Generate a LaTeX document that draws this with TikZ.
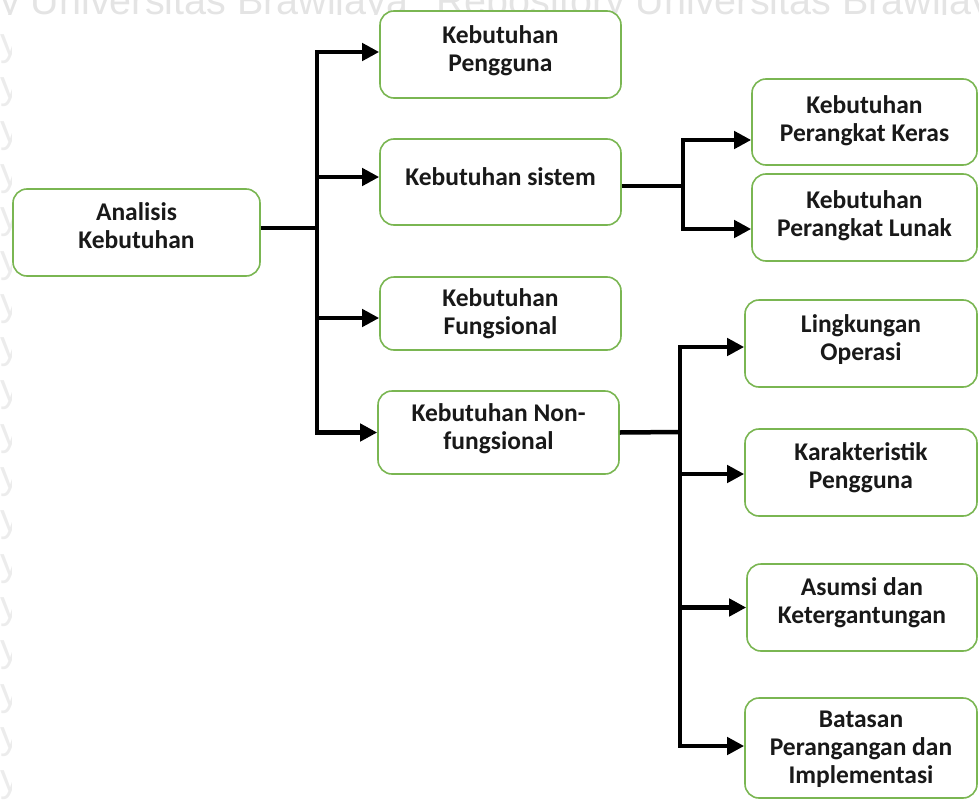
\documentclass[tikz,border=0pt]{standalone}
\usepackage{fontspec}
\setmainfont{Carlito}
\newfontfamily\wmfont{Liberation Sans}
\usetikzlibrary{arrows.meta}
\definecolor{boxgreen}{RGB}{122,182,82}
\definecolor{wmgray}{RGB}{228,228,228}
\definecolor{wmlight}{RGB}{236,236,236}
\begin{document}
\begin{tikzpicture}[x=1pt,y=-1pt,
  box/.style={draw=boxgreen, line width=1.6pt, rounded corners=14pt, fill=white, inner sep=0pt},
  txt/.style={align=center, inner sep=0pt, text=black!90,
    font=\bfseries\fontsize{25.5}{28}\selectfont},
  link/.style={line width=4.5pt, line join=miter},
  arr/.style={link, -{Triangle[length=17pt,width=17pt]}},
  wm/.style={text=wmgray, inner sep=0pt, anchor=base west,
    font=\wmfont\fontsize{39.5}{40}\selectfont}]
\useasboundingbox (0,0) rectangle (979,800);

% repository watermark along the top edge
\begin{scope}
  \clip (0,0) rectangle (979,15);
  \node[wm] (wma) at (-169,15) {Repository Universitas Brawijaya};
  \node[wm] (wmb) at (436,15) {Repository Universitas Brawijaya};
\end{scope}
% and along the left edge
\begin{scope}
  \clip (0,15) rectangle (11,800);
  \foreach \k in {0,...,17}{
    \node[wm, text=wmlight] (wmr\k) at (-169,{55.5+43.3*\k}) {Repository};
  }
\end{scope}

% boxes
\node[box, minimum width=247pt, minimum height=87pt]  (ana)   at (136.5,232.5) {};
\node[box, minimum width=241pt, minimum height=87pt]  (peng)  at (500.5,54.5)  {};
\node[box, minimum width=241pt, minimum height=86pt]  (sis)   at (500.5,182)   {};
\node[box, minimum width=241pt, minimum height=73pt]  (fung)  at (500.5,313.5) {};
\node[box, minimum width=241pt, minimum height=83pt]  (nonf)  at (498.5,432.5) {};
\node[box, minimum width=225pt, minimum height=86pt]  (keras) at (864.5,122)   {};
\node[box, minimum width=225pt, minimum height=87pt]  (lunak) at (864.5,217.5) {};
\node[box, minimum width=232pt, minimum height=87pt]  (ling)  at (861,343.5)   {};
\node[box, minimum width=232pt, minimum height=87pt]  (kar)   at (861,472.5)   {};
\node[box, minimum width=230pt, minimum height=87pt]  (asum)  at (862,607.5)   {};
\node[box, minimum width=232pt, minimum height=100pt] (bat)   at (861,748)     {};

% box texts
\node[txt] (ana-t)   at ([yshift=6.5pt]ana.center)   {Analisis\\Kebutuhan};
\node[txt] (peng-t)  at ([yshift=3.5pt]peng.center)  {Kebutuhan\\Pengguna};
\node[txt] (sis-t)   at ([yshift=5pt]sis.center)     {Kebutuhan sistem};
\node[txt] (fung-t)  at (fung.center)                {Kebutuhan\\Fungsional};
\node[txt] (nonf-t)  at ([yshift=3.5pt]nonf.center)  {Kebutuhan Non-\\fungsional};
\node[txt] (keras-t) at ([yshift=1.5pt]keras.center) {Kebutuhan\\Perangkat Keras};
\node[txt] (lunak-t) at ([yshift=2pt]lunak.center)   {Kebutuhan\\Perangkat Lunak};
\node[txt] (ling-t)  at ([yshift=3.5pt]ling.center)  {Lingkungan\\Operasi};
\node[txt] (kar-t)   at ([yshift=4.5pt]kar.center)   {Karakteristik\\Pengguna};
\node[txt] (asum-t)  at ([yshift=4.5pt]asum.center)  {Asumsi dan\\Ketergantungan};
\node[txt] (bat-t)   at ([yshift=-1.5pt]bat.center)  {Batasan\\Perangangan dan\\Implementasi};

% branch points
\coordinate (ta) at (317,228);
\coordinate (tb) at (683,186);
\coordinate (tc) at (680,432);

% first level
\draw[link] ([yshift=4.5pt]ana.east) -- (ta);
\draw[arr] (ta) |- ([yshift=2.5pt]peng.west);
\draw[arr] (ta) |- ([yshift=5pt]sis.west);
\draw[arr] (ta) |- ([yshift=-4.5pt]fung.west);
\draw[arr] (ta) |- (nonf.west);

% system requirements
\draw[link] ([yshift=-4pt]sis.east) -- (tb);
\draw[arr] (tb) |- ([yshift=-18pt]keras.west);
\draw[arr] (tb) |- ([yshift=-11.5pt]lunak.west);

% non-functional requirements
\draw[link] (nonf.east) -- (tc);
\draw[arr] (tc) |- ([yshift=-3.5pt]ling.west);
\draw[arr] (tc) |- ([yshift=-1.5pt]kar.west);
\draw[arr] (tc) |- (asum.west);
\draw[arr] (tc) |- ([yshift=2pt]bat.west);
\end{tikzpicture}
\end{document}
